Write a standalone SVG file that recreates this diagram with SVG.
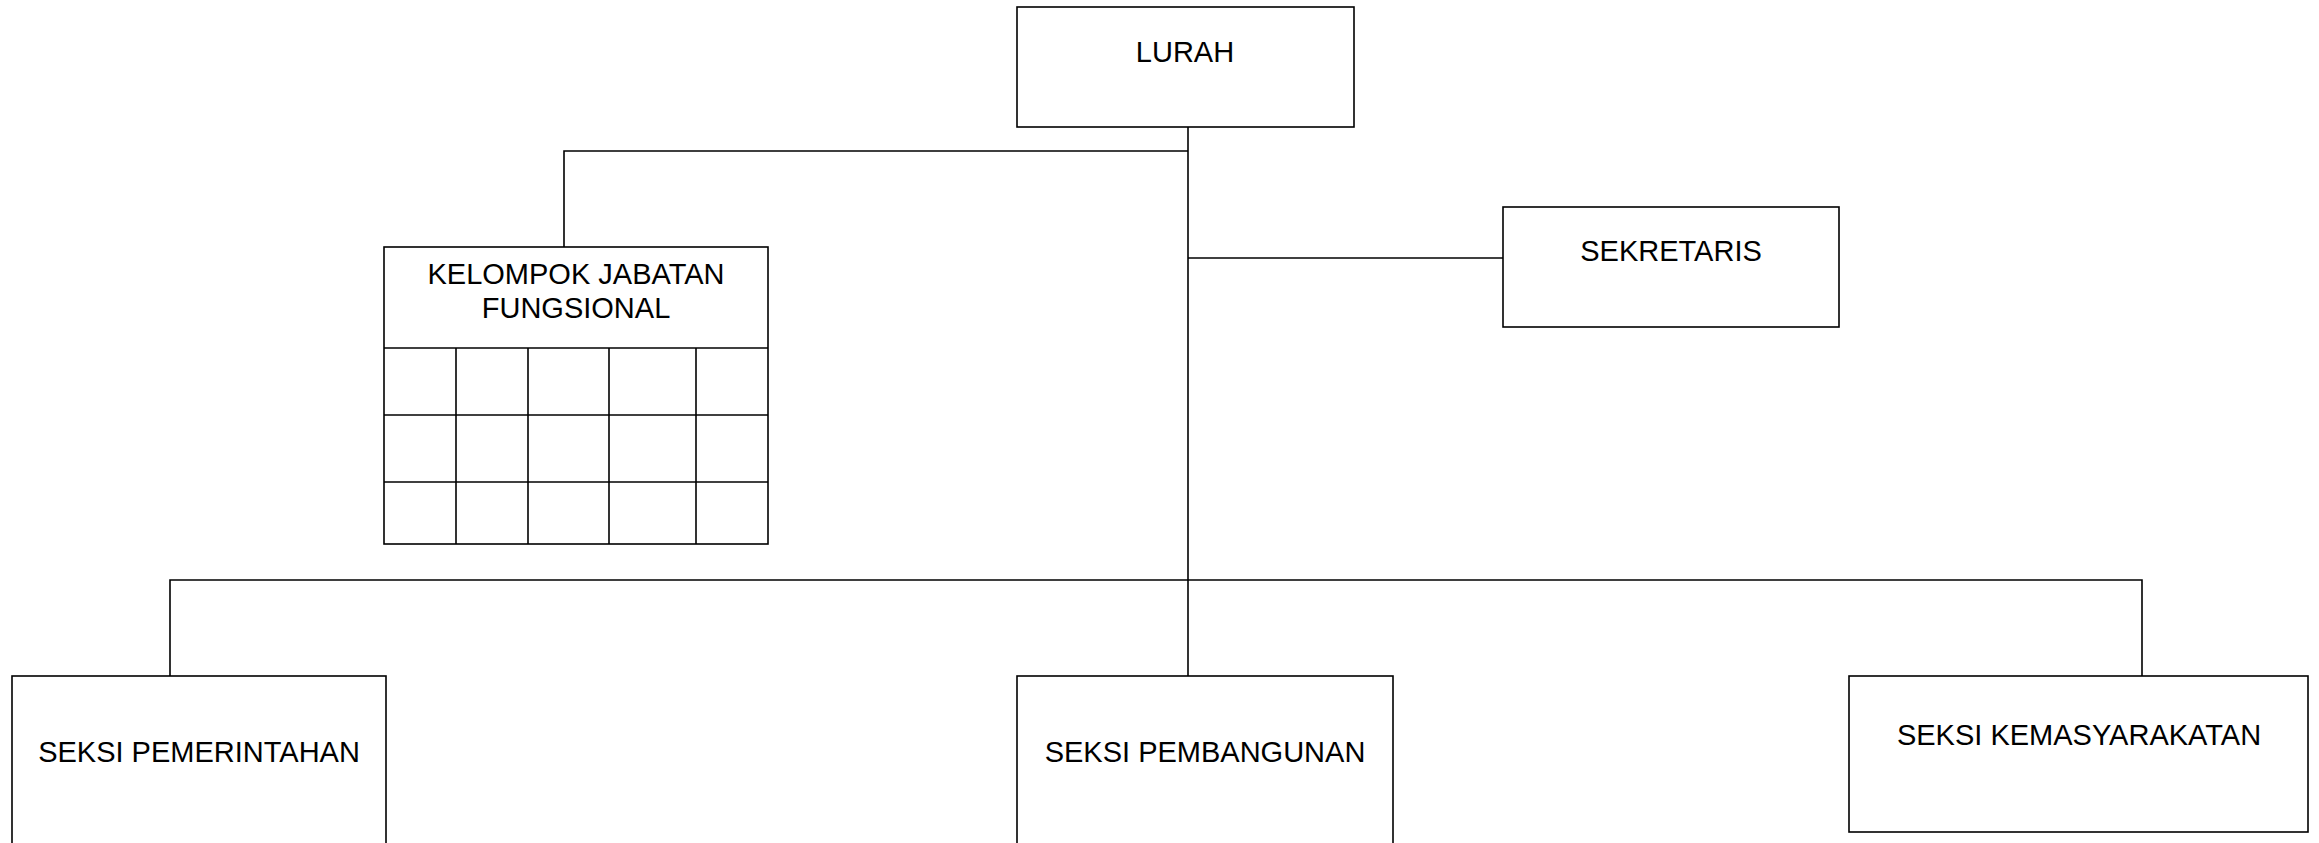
<svg xmlns="http://www.w3.org/2000/svg" width="2319" height="843" viewBox="0 0 2319 843">
<style>
.box{fill:#fff;stroke:#000;stroke-width:1.6}
.ln{fill:none;stroke:#000;stroke-width:1.6}
text{font-family:"Liberation Sans",Arial,sans-serif;font-size:29px;fill:#000;text-anchor:middle}
</style>
<rect width="2319" height="843" fill="#fff"/>
<g id="connectors">
<line class="ln" x1="1188" y1="124" x2="1188" y2="676"/>
<polyline class="ln" points="1188,151 564,151 564,247"/>
<line class="ln" x1="1188" y1="258" x2="1503" y2="258"/>
<polyline class="ln" points="170,676 170,580 2142,580 2142,676"/>
</g>
<g id="lurah">
<rect class="box" x="1017" y="7" width="337" height="120"/>
<text x="1185" y="62">LURAH</text>
</g>
<g id="kelompok-jabatan-fungsional">
<rect class="box" x="384" y="247" width="384" height="297"/>
<line class="ln" x1="384" y1="348" x2="768" y2="348"/>
<line class="ln" x1="384" y1="415" x2="768" y2="415"/>
<line class="ln" x1="384" y1="482" x2="768" y2="482"/>
<line class="ln" x1="456" y1="348" x2="456" y2="544"/>
<line class="ln" x1="528" y1="348" x2="528" y2="544"/>
<line class="ln" x1="609" y1="348" x2="609" y2="544"/>
<line class="ln" x1="696" y1="348" x2="696" y2="544"/>
<text x="576" y="284">KELOMPOK JABATAN</text>
<text x="576" y="318">FUNGSIONAL</text>
</g>
<g id="sekretaris">
<rect class="box" x="1503" y="207" width="336" height="120"/>
<text x="1671" y="261">SEKRETARIS</text>
</g>
<g id="seksi-pemerintahan">
<rect class="box" x="12" y="676" width="374" height="180"/>
<text x="199" y="762">SEKSI PEMERINTAHAN</text>
</g>
<g id="seksi-pembangunan">
<rect class="box" x="1017" y="676" width="376" height="180"/>
<text x="1205" y="762">SEKSI PEMBANGUNAN</text>
</g>
<g id="seksi-kemasyarakatan">
<rect class="box" x="1849" y="676" width="459" height="156"/>
<text x="2079" y="745">SEKSI KEMASYARAKATAN</text>
</g>
</svg>
